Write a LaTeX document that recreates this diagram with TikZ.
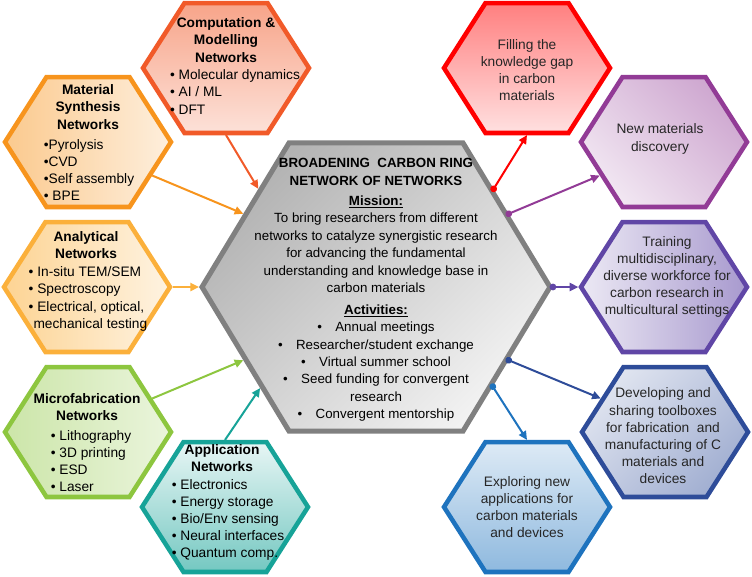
\documentclass[tikz,border=0pt]{standalone}
\usepackage{fontspec}
\setmainfont{Liberation Sans}
\usetikzlibrary{arrows.meta,positioning,calc,shapes.geometric}
\definecolor{compc}{RGB}{241,90,41}
\definecolor{matc}{RGB}{247,148,29}
\definecolor{anac}{RGB}{251,176,59}
\definecolor{micc}{RGB}{141,198,63}
\definecolor{appc}{RGB}{23,163,152}
\definecolor{gapc}{RGB}{255,0,0}
\definecolor{newc}{RGB}{146,59,150}
\definecolor{trnc}{RGB}{96,70,166}
\definecolor{devc}{RGB}{46,76,153}
\definecolor{expc}{RGB}{30,115,190}
\definecolor{hubc}{RGB}{128,128,128}
\newcommand{\hexfont}{\fontsize{10.3}{12.9}\selectfont}
\newcommand{\hubfont}{\fontsize{10}{13.1}\selectfont}

\begin{document}
\begin{tikzpicture}[x=0.75pt, y=-0.75pt,
        hexo/.style={regular polygon, regular polygon sides=6, minimum size=124.5pt, inner sep=0pt, line width=3.4pt, yscale=0.904},
        hexhub/.style={regular polygon, regular polygon sides=6, minimum size=261pt, inner sep=0pt, line width=3.8pt, yscale=0.956},
        ttl/.style={align=center, font=\hexfont\bfseries, inner sep=0pt},
        lst/.style={align=left, font=\hexfont, inner sep=0pt},
        txt/.style={align=center, font=\hexfont, inner sep=0pt, text=black!85},
        arr/.style={line width=1.5pt, -{Triangle[length=6.5pt,width=6pt]}},
        darr/.style={line width=1.5pt, {Circle[length=5pt]}-{Triangle[length=6.5pt,width=6pt]}, shorten <=-2.5pt}]
  \useasboundingbox (0,0) rectangle (752,576);

  % hexagons
  \node[hexhub, draw=hubc, top color=hubc!60, bottom color=hubc!10, shading angle=45] (hub) at (376,287) {};
  \node[hexo, draw=compc, top color=compc!55, bottom color=compc!18] (comp) at (226,68) {};
  \node[hexo, draw=matc, left color=matc!50, right color=matc!15] (mat) at (88,142) {};
  \node[hexo, draw=anac, left color=anac!55, right color=anac!15] (ana) at (87,287) {};
  \node[hexo, draw=micc, left color=micc!45, right color=micc!18] (mic) at (88,432) {};
  \node[hexo, draw=appc, top color=appc!10, bottom color=appc!60] (app) at (225,507) {};
  \node[hexo, draw=gapc, top color=gapc!50, bottom color=gapc!12] (gap) at (527,68) {};
  \node[hexo, draw=newc, top color=newc!45, bottom color=newc!12, shading angle=-45] (new) at (664,142) {};
  \node[hexo, draw=trnc, left color=trnc!12, right color=trnc!55] (trn) at (664,287) {};
  \node[hexo, draw=devc, top color=devc!15, bottom color=devc!45, shading angle=45] (dev) at (665,432) {};
  \node[hexo, draw=expc, top color=expc!15, bottom color=expc!50] (exp) at (527,507) {};

  % arrows into the hub
  \draw[arr, compc] (comp.side 4) -- ($(hub.corner 2)!0.33!(hub.corner 3)$);
  \draw[arr, matc] (mat.side 5) -- (hub.side 2);
  \draw[arr, anac] (ana.corner 6) -- (hub.corner 3);
  \draw[arr, micc] (mic.side 6) -- (hub.side 3);
  \draw[arr, appc] (app.side 1) -- ($(hub.corner 3)!0.69!(hub.corner 4)$);

  % arrows out of the hub
  \draw[darr, gapc] ($(hub.corner 1)!0.33!(hub.corner 6)$) -- (gap.side 4);
  \draw[darr, newc] (hub.side 6) -- (new.side 3);
  \draw[darr, trnc] (hub.corner 6) -- (trn.corner 3);
  \draw[darr, devc] (hub.side 5) -- (dev.side 2);
  \draw[darr, expc] ($(hub.corner 6)!0.68!(hub.corner 5)$) -- (exp.side 1);

  % texts
  \node[align=center, font=\hubfont, inner sep=0pt] (hubtxt) at (376,290) {%
    \textbf{BROADENING\ \ CARBON RING}\\\textbf{NETWORK OF NETWORKS}\\[2pt]
    \textbf{\underline{Mission:}}\\
    To bring researchers from different\\networks to catalyze synergistic research\\
    for advancing the fundamental\\understanding and knowledge base in\\carbon materials\\[3pt]
    \textbf{\underline{Activities:}}\\
    •\quad Annual meetings\\•\quad Researcher/student exchange\\•\quad Virtual summer school\\
    •\quad Seed funding for convergent\\research\\•\quad Convergent mentorship};

  \node[ttl] (comptitle) at (226,40) {Computation \&\\Modelling\\Networks};
  \node[lst] (complist) at (235,92) {• Molecular dynamics\\• AI / ML\\• DFT};
  \node[ttl] (mattitle) at (88,107) {Material\\Synthesis\\Networks};
  \node[lst] (matlist) at (89,170) {•Pyrolysis\\•CVD\\•Self assembly\\• BPE};
  \node[ttl] (anatitle) at (86,245) {Analytical\\Networks};
  \node[lst] (analist) at (88,299) {• In-situ TEM/SEM\\• Spectroscopy\\• Electrical, optical,\\\hphantom{•}mechanical testing};
  \node[ttl] (mictitle) at (87,407) {Microfabrication\\Networks};
  \node[lst] (miclist) at (91,461) {• Lithography\\• 3D printing\\• ESD\\• Laser};
  \node[ttl] (apptitle) at (222,458) {Application\\Networks};
  \node[lst] (applist) at (228,520) {• Electronics\\• Energy storage\\• Bio/Env sensing\\• Neural interfaces\\• Quantum comp.};

  \node[txt] (gaptxt) at (527,70) {Filling the\\knowledge gap\\in carbon\\materials};
  \node[txt] (newtxt) at (660,139) {New materials\\discovery};
  \node[txt] (trntxt) at (667,277) {Training\\multidisciplinary,\\diverse workforce for\\carbon research in\\multicultural settings};
  \node[txt] (devtxt) at (663,436) {Developing and\\sharing toolboxes\\for fabrication\ \ and\\manufacturing of C\\materials and\\devices};
  \node[txt] (exptxt) at (527,507) {Exploring new\\applications for\\carbon materials\\and devices};
\end{tikzpicture}
\end{document}
